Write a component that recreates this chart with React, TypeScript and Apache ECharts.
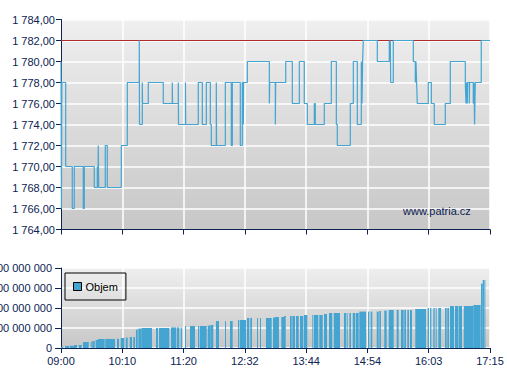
import React, { useEffect, useRef } from "react";
import * as echarts from "echarts";

const tickLabels = ["09:00", "10:10", "11:20", "12:32", "13:44", "14:54", "16:03", "17:15"];
const sessionMinutes = 495;

// Price trades: minutes since 09:00, price
const priceTimes = [
  0, 0.5, 1, 5.4, 13.0, 15.3, 25.7, 26.9, 38.4, 41.9,
  42.7, 43.0, 43.5, 51.1, 53.4, 69.6, 76.5, 90.3, 90.6, 93.8,
  94.1, 100.7, 118.0, 128.4, 128.7, 135.3, 135.6, 143.6, 143.9, 158.4,
  163.1, 167.7, 172.3, 173.4, 179.2, 179.5, 189.6, 196.5, 197.7, 206.9,
  209.2, 210.4, 210.7, 215.0, 240.4, 240.8, 247.3, 247.7, 259.3, 266.9,
  275.0, 280.7, 284.2, 292.3, 293.4, 303.8, 311.9, 317.7, 318.8, 333.8,
  337.3, 341.9, 346.5, 347.3, 348.0, 348.8, 365.0, 378.8, 379.4, 380.0,
  380.4, 383.4, 406.5, 408.8, 409.6, 410.3, 411.1, 423.8, 427.3, 430.7,
  443.4, 449.2, 466.5, 467.3, 468.0, 468.8, 469.1, 471.1, 471.5, 475.7,
  476.5, 477.2, 478.0, 484.9, 495,
];
const priceValues = [
  1780, 1766, 1778, 1770, 1766, 1770, 1766, 1770, 1768, 1770,
  1768, 1772, 1768, 1772, 1768, 1772, 1778, 1782, 1774, 1778,
  1776, 1778, 1776, 1778, 1776, 1778, 1774, 1778, 1774, 1778,
  1774, 1778, 1774, 1772, 1778, 1772, 1778, 1772, 1778, 1772,
  1778, 1774, 1778, 1780, 1776, 1778, 1774, 1778, 1780, 1776,
  1780, 1776, 1774, 1776, 1774, 1776, 1780, 1774, 1772, 1776,
  1780, 1774, 1780, 1776, 1780, 1782, 1780, 1782, 1780, 1782,
  1778, 1782, 1780, 1778, 1780, 1778, 1776, 1778, 1776, 1774,
  1776, 1780, 1778, 1776, 1778, 1776, 1778, 1776, 1778, 1776,
  1778, 1774, 1778, 1782, 1782,
];
const referencePrice = 1782;

// Cumulative volume bars: start minute, end minute, volume (millions)
const volStart = [
  0.0, 4.6, 10.0, 15.0, 20.4, 25.4, 34.3, 36.1, 40.0, 42.7,
  51.1, 64.6, 68.9, 74.7, 79.3, 83.4, 86.5, 89.2, 93.1, 109.6,
  113.1, 126.9, 133.5, 138.1, 143.1, 148.8, 158.1, 160.4, 169.3, 172.3,
  178.8, 189.2, 195.0, 204.2, 206.5, 214.6, 218.4, 226.2, 229.6, 236.5,
  244.6, 246.9, 249.2, 254.2, 257.3, 264.2, 266.9, 271.2, 275.8, 280.4,
  290.0, 291.9, 298.0, 303.5, 309.2, 314.7, 326.5, 329.6, 332.7, 336.6,
  340.4, 344.2, 354.2, 357.3, 364.3, 367.3, 373.0, 378.1, 387.3, 392.3,
  396.1, 399.6, 402.7, 408.8, 423.1, 425.8, 429.6, 432.3, 435.3, 443.1,
  445.7, 448.8, 454.6, 458.9, 464.7, 475.7, 484.6, 486.6, 488.5,
];
const volEnd = [
  2.7, 9.2, 15.0, 18.5, 23.9, 32.0, 35.4, 38.9, 42.7, 50.4,
  62.3, 66.9, 73.0, 77.0, 81.9, 85.4, 88.5, 93.1, 105.0, 111.9,
  125.0, 132.7, 136.5, 139.6, 143.9, 154.6, 159.6, 168.1, 172.3, 175.7,
  182.3, 190.4, 198.1, 205.7, 213.5, 217.3, 220.4, 227.3, 230.8, 243.1,
  246.9, 249.2, 251.5, 257.3, 259.3, 266.2, 270.0, 274.3, 279.6, 284.2,
  291.1, 296.9, 302.0, 306.9, 313.0, 321.9, 328.8, 330.8, 334.6, 339.6,
  343.5, 351.9, 355.7, 359.2, 366.6, 369.2, 375.8, 383.9, 389.6, 395.4,
  398.1, 401.5, 405.0, 421.2, 424.6, 427.3, 431.2, 433.5, 438.5, 445.0,
  447.7, 453.5, 458.4, 462.7, 475.7, 484.2, 486.6, 488.1, 489.6,
];
const volValues = [
  6, 10, 11, 15, 15, 30, 30, 35, 40, 45,
  45, 46, 50, 52, 55, 55, 92, 97, 100, 100,
  100, 103, 103, 103, 110, 110, 110, 110, 112, 115,
  135, 135, 135, 140, 140, 150, 150, 150, 150, 150,
  152, 155, 155, 155, 160, 160, 160, 160, 160, 165,
  165, 165, 165, 170, 175, 175, 175, 175, 175, 175,
  175, 182, 182, 182, 182, 185, 187, 190, 190, 190,
  190, 190, 190, 195, 200, 200, 200, 200, 200, 200,
  200, 210, 210, 210, 210, 215, 322, 340, 340,
];

const FONT = "'Liberation Sans', Arial, sans-serif";
const NAVY = "#0c2352";
const BLUE = "#45a5d2";

function groupThousands(intStr: string) {
  return intStr.replace(/\B(?=(\d{3})+(?!\d))/g, " ");
}

export default function App() {
  const ref = useRef<HTMLDivElement>(null);
  useEffect(() => {
    if (!ref.current) return;
    const chart = echarts.init(ref.current, null, { renderer: "svg" });
    const slot = sessionMinutes / (tickLabels.length - 1);
    const toSlot = (m: number) => m / slot;

    const priceData = priceTimes.map((t, i) => [toSlot(t), priceValues[i]]);
    const refData = [
      [0, referencePrice],
      [toSlot(sessionMinutes), referencePrice],
    ];
    const volData = volStart.map((s, i) => [toSlot(s), toSlot(volEnd[i]), volValues[i] * 1e6]);

    const bg = () =>
      new echarts.graphic.LinearGradient(0, 0, 0, 1, [
        { offset: 0, color: "#efefef" },
        { offset: 1, color: "#c7c7c7" },
      ]);

    const xAxisBase = {
      type: "value",
      min: 0,
      max: tickLabels.length - 1,
      interval: 1,
      axisLine: { show: true, lineStyle: { color: NAVY, width: 1 } },
      axisTick: { show: true, length: 5, lineStyle: { color: NAVY } },
      splitLine: { show: true, lineStyle: { color: "#ffffff", width: 1.5 } },
    };

    chart.setOption({
      animation: false,
      textStyle: { fontFamily: FONT },
      grid: [
        {
          left: 61, right: 17, top: 19.5, height: 210, show: true,
          backgroundColor: bg(), borderWidth: 0, outerBoundsMode: "none", containLabel: false,
        },
        {
          left: 61, right: 17, top: 268, height: 80, show: true,
          backgroundColor: bg(), borderWidth: 0, outerBoundsMode: "none", containLabel: false,
        },
      ],
      legend: {
        data: ["Objem"],
        left: 65,
        top: 273,
        orient: "vertical",
        padding: [8, 8, 8, 8],
        borderColor: "#000",
        borderWidth: 1,
        borderRadius: 0,
        icon: "rect",
        itemWidth: 8,
        itemHeight: 8,
        itemGap: 4,
        itemStyle: { borderColor: "#000", borderWidth: 1 },
        textStyle: { color: "#000", fontSize: 11, fontFamily: FONT, padding: [0, 0, 0, -1] },
      },
      xAxis: [
        {
          ...xAxisBase,
          gridIndex: 0,
          axisLabel: { show: false },
        },
        {
          ...xAxisBase,
          gridIndex: 1,
          axisLabel: {
            show: true,
            color: NAVY,
            fontSize: 11,
            fontFamily: FONT,
            margin: 7,
            formatter: (v: number) => tickLabels[Math.round(v)] ?? "",
          },
        },
      ],
      yAxis: [
        {
          type: "value",
          gridIndex: 0,
          min: 1764,
          max: 1784,
          interval: 2,
          axisLine: { show: true, lineStyle: { color: NAVY, width: 1 } },
          axisTick: { show: true, length: 5, lineStyle: { color: NAVY } },
          splitLine: { show: true, lineStyle: { color: "#ffffff", width: 1.5 } },
          axisLabel: {
            color: NAVY,
            fontSize: 11,
            fontFamily: FONT,
            margin: 6,
            formatter: (v: number) => {
              const [i, d] = v.toFixed(2).split(".");
              return groupThousands(i) + "," + d;
            },
          },
        },
        {
          type: "value",
          gridIndex: 1,
          min: 0,
          max: 400000000,
          interval: 100000000,
          axisLine: { show: true, lineStyle: { color: NAVY, width: 1 } },
          axisTick: { show: true, length: 6, lineStyle: { color: NAVY } },
          splitLine: { show: true, lineStyle: { color: "#ffffff", width: 1.5 } },
          axisLabel: {
            color: NAVY,
            fontSize: 11,
            fontFamily: FONT,
            margin: 9,
            formatter: (v: number) => groupThousands(String(Math.round(v))),
          },
        },
      ],
      series: [
        {
          name: "ref",
          type: "line",
          xAxisIndex: 0,
          yAxisIndex: 0,
          data: refData,
          showSymbol: false,
          lineStyle: { color: "#b02c28", width: 1 },
          silent: true,
          z: 1,
        },
        {
          name: "Cena",
          type: "line",
          xAxisIndex: 0,
          yAxisIndex: 0,
          data: priceData,
          step: "end",
          showSymbol: false,
          lineStyle: { color: BLUE, width: 1.2 },
          silent: true,
          z: 3,
        },
        {
          name: "Objem",
          type: "custom",
          xAxisIndex: 1,
          yAxisIndex: 1,
          data: volData,
          encode: { x: [0, 1], y: 2 },
          itemStyle: { color: BLUE },
          silent: true,
          renderItem: (params: any, api: any) => {
            const s = api.value(0);
            const e = api.value(1);
            const v = api.value(2);
            const p0 = api.coord([s, v]);
            const p1 = api.coord([e, 0]);
            return {
              type: "rect",
              shape: {
                x: p0[0],
                y: p0[1],
                width: Math.max(p1[0] - p0[0], 1),
                height: p1[1] - p0[1],
              },
              style: { fill: api.visual("color") },
            };
          },
        },
      ],
      graphic: [
        {
          type: "text",
          left: 403,
          top: 205,
          style: { text: "www.patria.cz", fill: NAVY, font: `11px ${FONT}` },
          silent: true,
          z: 10,
        },
      ],
    });
    return () => chart.dispose();
  }, []);
  return (
    <div
      ref={ref}
      style={{ position: "fixed", left: 0, top: 0, width: 507, height: 380, background: "#ffffff" }}
    />
  );
}
